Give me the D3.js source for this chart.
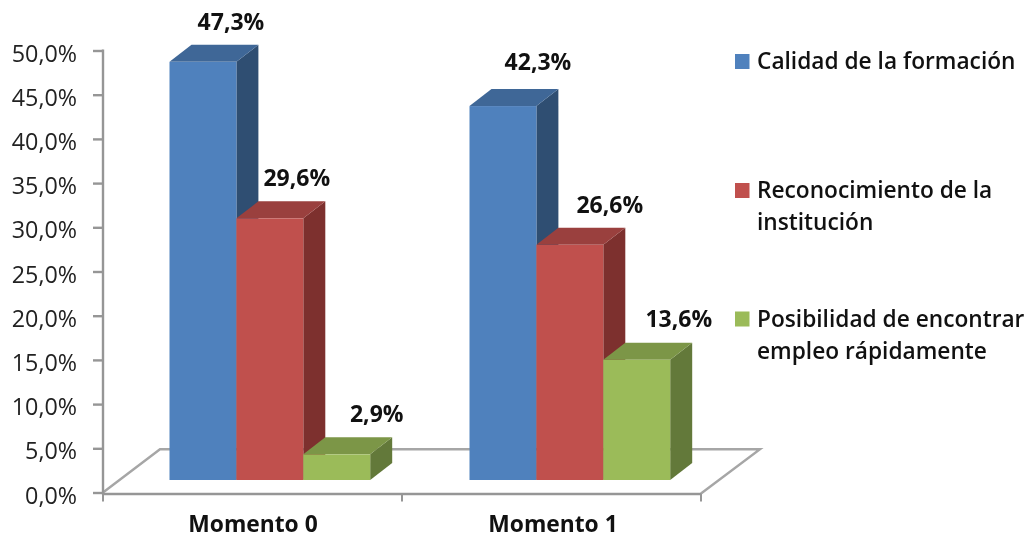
<!DOCTYPE html>
<html><head><meta charset="utf-8">
<script src="https://cdn.jsdelivr.net/npm/d3@7"></script>
<style>html,body{margin:0;background:#fff}svg{display:block}text{font-family:"Open Sans",Lato,sans-serif;fill:#111;filter:blur(0.35px)}</style>
</head><body><svg width="1029" height="539"></svg>
<script>
const categories = ["Momento 0", "Momento 1"];
const seriesNames = ["Calidad de la formación", "Reconocimiento de la institución", "Posibilidad de encontrar empleo rápidamente"];
const calidad = [47.3, 42.3];
const reconocimiento = [29.6, 26.6];
const posibilidad = [2.9, 13.6];
const yTicks = [0,5,10,15,20,25,30,35,40,45,50];
const legendLines = [["Calidad de la formación"],["Reconocimiento de la","institución"],["Posibilidad de encontrar","empleo rápidamente"]];
const labelOffsets = [[[27,-32],[34,-36]],[[26,-32],[39,-32]],[[39,-32],[41,-33]]];
const fronts = ["#4f81bd","#c0504d","#9bbb59"];
const tops = ["#3f6797","#9a403e","#7c9647"];
const sides = ["#2f4e72","#7d302e","#63793a"];

const svg = d3.select("svg");
const y = d3.scaleLinear().domain([0,50]).range([492.5,50.5]);
const x0 = d3.scaleBand().domain(categories).range([103,703]);
const xAxisScale = d3.scaleBand().domain(categories).range([103,701]);
const x1 = d3.scaleBand().domain([0,1,2]).range([0,200.7]);
const dx = 22, dy = 17, lift = 12.5, barShift = 66.5;
const fmt = v => v.toFixed(1).replace(".",",")+"%";
const axisC = "#969696";

const g = svg.append("g");
const yb = y(5)+1;
g.append("path").attr("fill","none").attr("stroke","#a6a6a6").attr("stroke-width",2.4)
 .attr("d",d3.line()([[103,y(0)],[160,yb],[760,yb],[701,y(0)+1]]));

const ya = g.append("g").attr("transform","translate(103,0)")
 .call(d3.axisLeft(y).tickValues(yTicks).tickSize(10).tickFormat(fmt));
ya.selectAll("path,line").attr("stroke",axisC).attr("stroke-width",2.4);
ya.select(".domain").attr("d",`M0,${y(50)-1}V${y(0)+2}`);
ya.selectAll("text").attr("x",-26).attr("dy","0.45em").attr("font-size",23.3).attr("font-family",null).style("fill","#222");

const xa = g.append("g").attr("transform",`translate(0,${y(0)+1.5})`)
 .call(d3.axisBottom(xAxisScale).tickSize(0).tickFormat(""));
xa.select(".domain").attr("stroke",axisC).attr("stroke-width",2.4).attr("d","M103,0H701");
[103,xAxisScale.bandwidth()+103,701].forEach(t=>g.append("line").attr("x1",t).attr("x2",t)
  .attr("y1",y(0)+1).attr("y2",y(0)+9).attr("stroke",axisC).attr("stroke-width",2));
categories.forEach(c=>g.append("text").attr("x",x0(c)+x0.bandwidth()/2).attr("y",532)
  .attr("text-anchor","middle").attr("font-weight",700).attr("font-size",22.8).text(c));

[calidad,reconocimiento,posibilidad].forEach((vals,s)=>{
  vals.forEach((v,i)=>{
    const xl = x0(categories[i])+barShift+x1(s);
    const w = x1.bandwidth();
    const base = y(0)-lift, top = y(v)-lift;
    const b = g.append("g");
    b.append("path").attr("fill",sides[s]).attr("d",`M${xl+w},${base}L${xl+w+dx},${base-dy}V${top-dy}L${xl+w},${top}Z`);
    b.append("path").attr("fill",tops[s]).attr("d",`M${xl},${top}L${xl+dx},${top-dy}H${xl+w+dx}L${xl+w},${top}Z`);
    b.append("rect").attr("x",xl).attr("y",top).attr("width",w).attr("height",base-top).attr("fill",fronts[s]);
    g.append("text").attr("x",xl+w/2+labelOffsets[s][i][0]+(i?1:1)).attr("y",top+labelOffsets[s][i][1])
      .attr("text-anchor","middle").attr("font-weight",700).attr("font-size",23).text(fmt(v));
  });
});

const legY = [61.5,190.5,319];
legendLines.forEach((ls,s)=>{
  g.append("rect").attr("x",735).attr("y",legY[s]-7.5).attr("width",14.5).attr("height",15).attr("fill",fronts[s]);
  ls.forEach((t,j)=>g.append("text").attr("x",757).attr("y",legY[s]+7.5+j*32)
    .attr("font-weight",600).attr("font-size",22.7).text(t));
});
</script></body></html>
